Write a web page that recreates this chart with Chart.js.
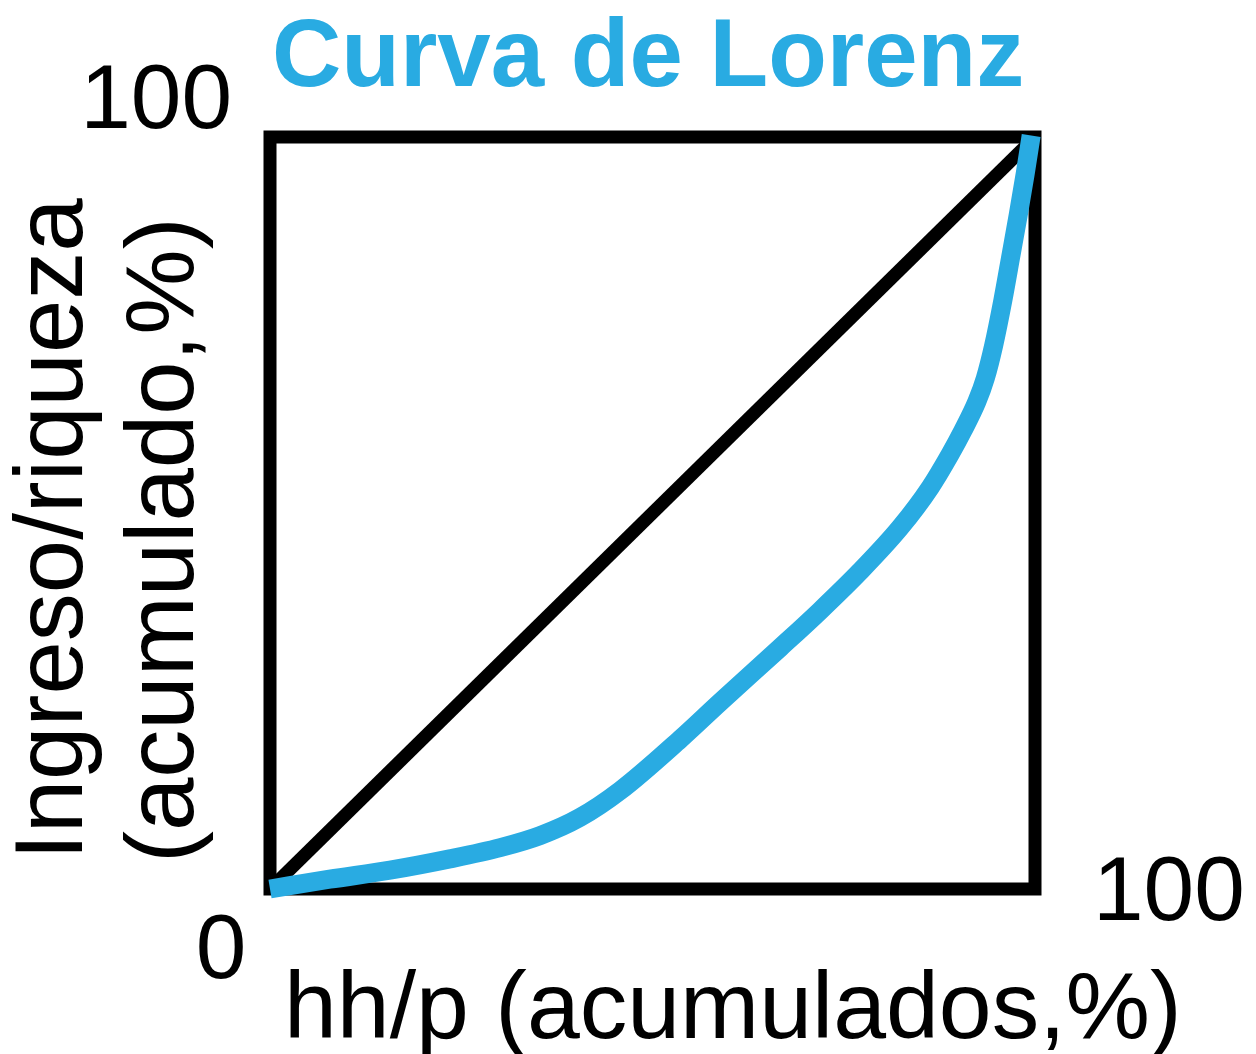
<!DOCTYPE html>
<html lang="es">
<head>
<meta charset="utf-8">
<title>Curva de Lorenz</title>
<script src="https://cdn.jsdelivr.net/npm/chart.js@4.4.1/dist/chart.umd.min.js"></script>
<style>
    html, body {
        margin: 0;
        padding: 0;
        background: #ffffff;
    }
    canvas {
        display: block;
    }
</style>
</head>
<body>
<canvas id="graficoLorenz" width="1256" height="1054"></canvas>
<script>
// =============================
// DATOS
// =============================

// hogares/personas acumulados (%)
const hogaresAcumulados = [
    0, 7.8, 15.7, 23.5, 30.1, 35.3, 40.5, 45.8, 53.6, 58.8, 66.7, 71.9,
    77.1, 82.4, 86.3, 88.9, 90.6, 92.4, 93.5, 94.6, 95.8, 96.9, 97.8, 98.7, 99.5
];

// ingreso/riqueza acumulado (%)
const ingresoAcumulado = [
    0, 1.3, 2.5, 4.0, 5.5, 7.1, 9.5, 13.1, 19.9, 24.8, 32.1, 37.0,
    42.2, 48.1, 53.4, 57.8, 61.0, 64.8, 67.9, 72.3, 78.3, 84.5, 89.6, 95.0, 100.2
];

// línea de igualdad perfecta
const igualdadX = [0, 100];
const igualdadY = [0, 100];

const etiquetasEjes = ['0', '100'];

const titulo = 'Curva de Lorenz';
const tituloEjeX = 'hh/p (acumulados,%)';
const tituloEjeY = ['Ingreso/riqueza', '(acumulado,%)'];

const AZUL = '#29abe2';
const FUENTE = '"Liberation Sans", Arial, Helvetica, sans-serif';


// =============================
// FUNCIONES AUXILIARES
// =============================

function aPuntos(xs, ys) {
    return xs.map((x, i) => ({ x: x, y: ys[i] }));
}

function texto(ctx, contenido, x, y, fuente, color, alineacion) {
    ctx.save();
    ctx.font = fuente;
    ctx.fillStyle = color;
    ctx.textAlign = alineacion;
    ctx.textBaseline = 'alphabetic';
    ctx.fillText(contenido, x, y);
    ctx.restore();
}


// =============================
// PLUGIN: MARCO Y TEXTOS
// =============================

const marcoYTextos = {
    id: 'marcoYTextos',

    beforeDatasetsDraw(chart) {
        const ctx = chart.ctx;
        const x = chart.scales.x;
        const y = chart.scales.y;

        const izq = x.getPixelForValue(x.min);
        const der = x.getPixelForValue(x.max);
        const arriba = y.getPixelForValue(y.max);
        const abajo = y.getPixelForValue(y.min);

        ctx.save();
        ctx.strokeStyle = '#000000';
        ctx.lineWidth = 13;
        ctx.lineJoin = 'miter';
        ctx.strokeRect(izq, arriba, der - izq, abajo - arriba);
        ctx.restore();
    },

    afterDraw(chart) {
        const ctx = chart.ctx;
        const x = chart.scales.x;
        const y = chart.scales.y;

        const izq = x.getPixelForValue(x.min);
        const der = x.getPixelForValue(x.max);
        const arriba = y.getPixelForValue(y.max);
        const abajo = y.getPixelForValue(y.min);

        // título
        texto(ctx, titulo, izq + 2, arriba - 51, 'bold 96px ' + FUENTE, AZUL, 'left');

        // etiquetas 0 y 100
        texto(ctx, etiquetasEjes[1], izq - 38, arriba - 9, '91px ' + FUENTE, '#000000', 'right');
        texto(ctx, etiquetasEjes[0], izq - 49, abajo + 89, '91px ' + FUENTE, '#000000', 'center');
        texto(ctx, etiquetasEjes[1], der + 58, abajo + 31, '91px ' + FUENTE, '#000000', 'left');

        // título eje x
        texto(ctx, tituloEjeX, izq + 14, abajo + 149, '95px ' + FUENTE, '#000000', 'left');

        // título eje y (dos líneas, rotado)
        const basesY = [82, 193];
        tituloEjeY.forEach((linea, i) => {
            ctx.save();
            ctx.translate(basesY[i], abajo - 29 + i * 3);
            ctx.rotate(-Math.PI / 2);
            texto(ctx, linea, 0, 0, '96px ' + FUENTE, '#000000', 'left');
            ctx.restore();
        });
    }
};


// =============================
// GRÁFICO: CURVA DE LORENZ
// =============================

function crearGrafico() {
    const ctx = document.getElementById('graficoLorenz');

    new Chart(ctx, {
        type: 'scatter',
        data: {
            datasets: [
                {
                    label: 'Curva de Lorenz',
                    data: aPuntos(hogaresAcumulados, ingresoAcumulado),
                    showLine: true,
                    borderColor: AZUL,
                    borderWidth: 19,
                    borderCapStyle: 'butt',
                    borderJoinStyle: 'round',
                    cubicInterpolationMode: 'monotone',
                    pointRadius: 0,
                    clip: false,
                    order: 0
                },
                {
                    label: 'Igualdad',
                    data: aPuntos(igualdadX, igualdadY),
                    showLine: true,
                    borderColor: '#000000',
                    borderWidth: 13,
                    pointRadius: 0,
                    clip: false,
                    order: 1
                }
            ]
        },
        options: {
            responsive: false,
            devicePixelRatio: 1,
            animation: false,
            layout: {
                padding: { left: 270, right: 221, top: 137, bottom: 165 }
            },
            plugins: {
                legend: { display: false },
                tooltip: { enabled: false },
                title: { display: false }
            },
            scales: {
                x: {
                    type: 'linear',
                    min: 0,
                    max: 100,
                    display: false
                },
                y: {
                    type: 'linear',
                    min: 0,
                    max: 100,
                    display: false
                }
            }
        },
        plugins: [marcoYTextos]
    });
}

document.addEventListener('DOMContentLoaded', () => {
    crearGrafico();
});
</script>
</body>
</html>
